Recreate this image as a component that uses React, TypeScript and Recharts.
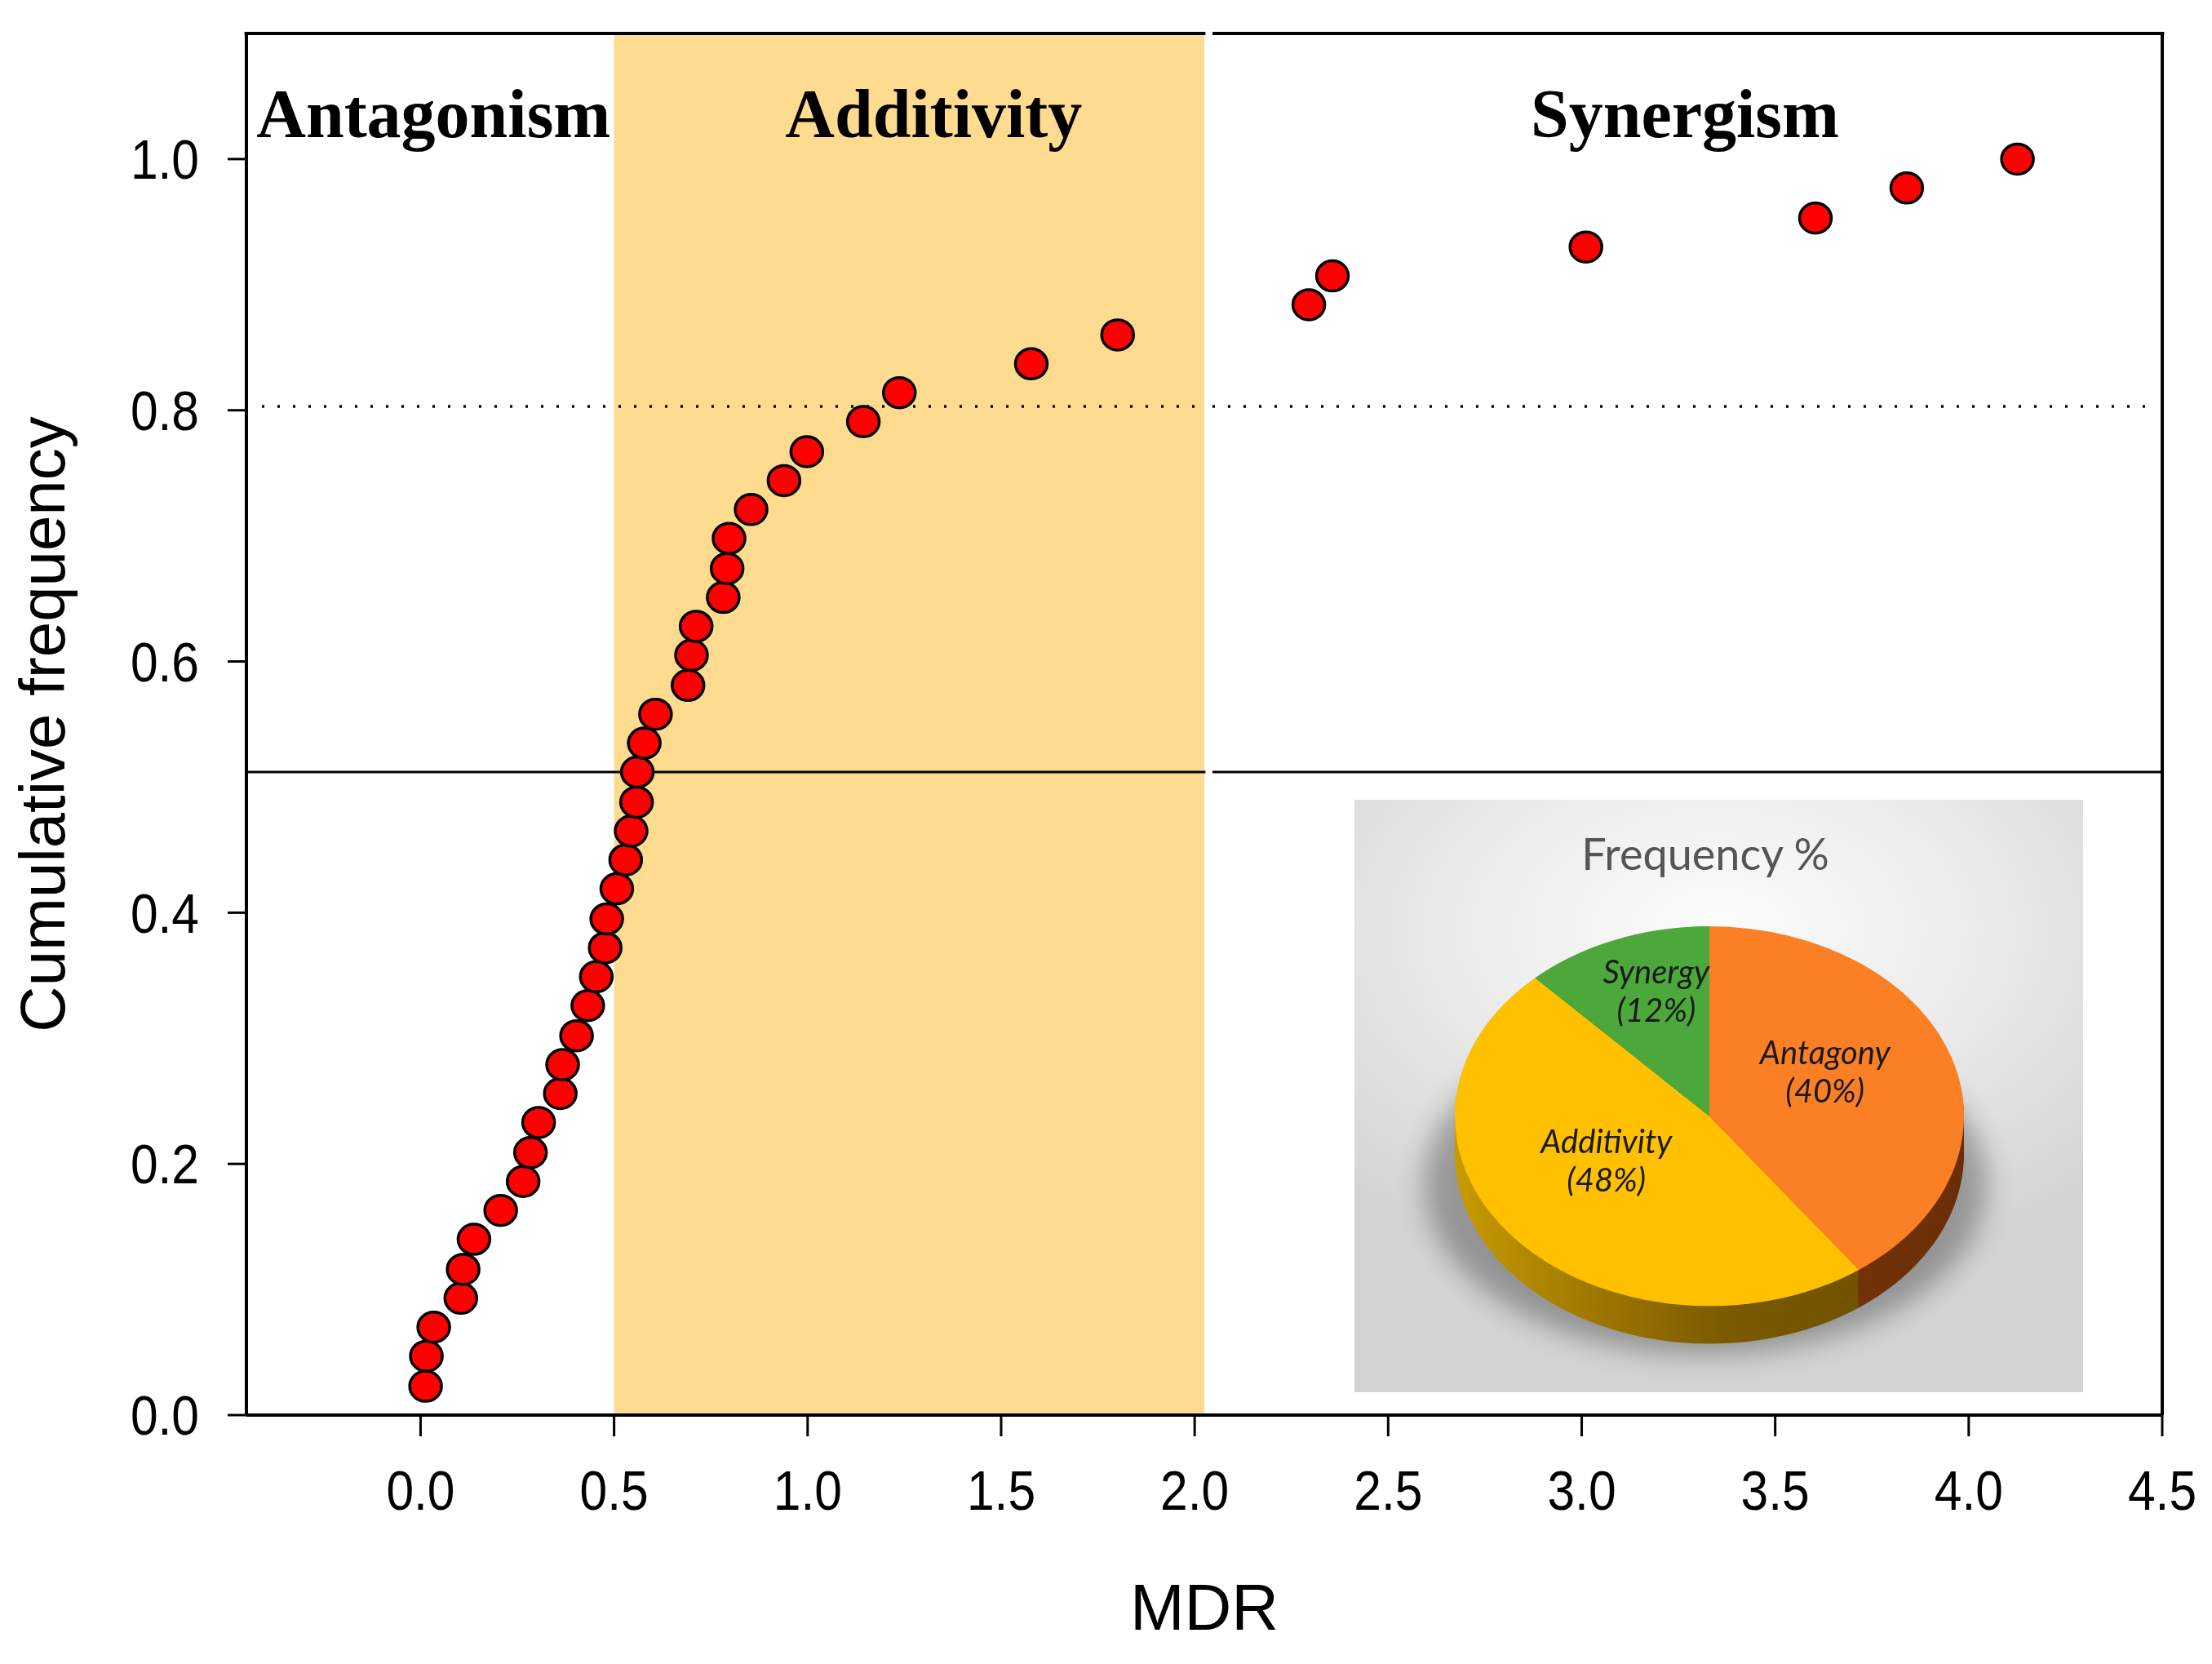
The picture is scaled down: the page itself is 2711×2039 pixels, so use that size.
import {
  ScatterChart,
  Scatter,
  XAxis,
  YAxis,
  ReferenceArea,
  ReferenceLine,
  Label,
  PieChart,
  Pie,
  Cell,
} from "recharts";

// MDR value of each combination, sorted, with its cumulative frequency
const MDR = [
  0.013, 0.015, 0.034, 0.104, 0.11, 0.138, 0.207, 0.265, 0.284, 0.305,
  0.361, 0.367, 0.403, 0.432, 0.454, 0.477, 0.481, 0.507, 0.53, 0.544,
  0.558, 0.56, 0.578, 0.607, 0.691, 0.7, 0.712, 0.782, 0.792, 0.797,
  0.854, 0.939, 0.998, 1.144, 1.237, 1.578, 1.801, 2.295, 2.356, 3.011,
  3.604, 3.84, 4.126,
];
const CUM_FREQ = [
  0.023, 0.047, 0.07, 0.093, 0.116, 0.14, 0.163, 0.186, 0.209, 0.233,
  0.256, 0.279, 0.302, 0.326, 0.349, 0.372, 0.395, 0.419, 0.442, 0.465,
  0.488, 0.512, 0.535, 0.558, 0.581, 0.605, 0.628, 0.651, 0.674, 0.698,
  0.721, 0.744, 0.767, 0.791, 0.814, 0.837, 0.86, 0.884, 0.907, 0.93,
  0.953, 0.977, 1.0,
];

const X_TICKS = [0, 0.5, 1, 1.5, 2, 2.5, 3, 3.5, 4, 4.5];
const Y_TICKS = [0, 0.2, 0.4, 0.6, 0.8, 1.0];
const X_DOMAIN: [number, number] = [-0.45, 4.5];
const Y_DOMAIN: [number, number] = [0, 1.1];

const ZONE_NAMES = ["Antagonism", "Additivity", "Synergism"];
const ZONE_BOUNDS = [-0.45, 0.5, 2.025, 4.5];
const MEDIAN_FREQ = 0.512;
const UPPER_FREQ = 0.803;

const PIE_TITLE = "Frequency %";
const PIE_NAMES = ["Antagony", "Additivity", "Synergy"];
const PIE_PERCENT = [40, 48, 12];

const points = MDR.map((mdr, i) => ({ mdr, freq: CUM_FREQ[i] }));
const pieData = PIE_NAMES.map((name, i) => ({ name, value: PIE_PERCENT[i] }));

const ZONE_FILL = ["none", "#FEDB8F", "none"];
const ZONE_LABEL_DX = [4, 30, 2];
const TOP_COLORS = ["#FB7F25", "#FFC000", "#4CA83A"];
const SIDE_COLORS = ["url(#sideOrange)", "url(#sideYellow)", "#2E6B22"];

// small white break in the lines just right of the shaded band
const GAP: [number, number] = [2.028, 2.046];

// pie geometry (unscaled coordinates, squashed vertically by K)
const K = 0.7456;
const PIE_R = 312;
const PIE_CX = 430;
const PIE_CY = 515;
const DEPTH_STEPS = [62, 57, 52, 47, 42, 37, 32, 27, 22, 17, 12, 7, 3];
const LABEL_PLACE: Record<string, { r: number; shift: number }> = {
  Antagony: { r: 0.51, shift: 9 },
  Additivity: { r: 0.47, shift: -9 },
  Synergy: { r: 0.69, shift: -4 },
};

const AXIS_FONT = "'Liberation Sans', Arial, sans-serif";

function AxisTick(props: any) {
  const { x, y, payload, axis } = props;
  return (
    <g transform={`translate(${x},${y})`}>
      <text
        transform="scale(0.89,1)"
        textAnchor={axis === "x" ? "middle" : "end"}
        dy={axis === "x" ? "0.71em" : "0.355em"}
        fontSize={68}
        fontFamily={AXIS_FONT}
        fill="#000"
      >
        {Number(payload.value).toFixed(1)}
      </text>
    </g>
  );
}

function PieLabel(props: any) {
  const { cx, cy, midAngle, value } = props;
  const name = props.name ?? props.payload?.name;
  const p = LABEL_PLACE[name] ?? { r: 0.55, shift: 0 };
  const a = ((midAngle + p.shift) * Math.PI) / 180;
  const x = cx + PIE_R * p.r * Math.cos(a);
  const y = cy - PIE_R * p.r * Math.sin(a);
  return (
    <text
      transform={`translate(${x},${y}) scale(1,${1 / K})`}
      textAnchor="middle"
      fontFamily="Lato, 'Open Sans', sans-serif"
      fontStyle="italic"
      fontSize={40}
      fill="#1a1a1a"
    >
      <tspan x={0} y={-10}>
        {name}
      </tspan>
      <tspan x={0} y={37}>
        ({value}%)
      </tspan>
    </text>
  );
}

function FrequencyPie() {
  return (
    <div
      style={{
        position: "absolute",
        left: 1660,
        top: 980,
        width: 893,
        height: 726,
        background:
          "radial-gradient(ellipse 75% 60% at 50% 22%, #fdfdfd 0%, #ececec 45%, #d3d3d3 100%)",
      }}
    >
      <div
        style={{
          position: "absolute",
          left: 85,
          top: 260,
          width: 690,
          height: 420,
          borderRadius: "50%",
          background: "rgba(0,0,0,0.3)",
          filter: "blur(16px)",
        }}
      />
      <div
        style={{
          position: "absolute",
          left: 0,
          top: 30,
          width: 860,
          textAlign: "center",
          fontFamily: "Lato, 'Open Sans', sans-serif",
          fontSize: 54,
          lineHeight: "72px",
          color: "#555555",
        }}
      >
        {PIE_TITLE}
      </div>
      <div
        style={{
          position: "absolute",
          left: 0,
          top: 0,
          transform: `scaleY(${K})`,
          transformOrigin: "0 0",
        }}
      >
        <PieChart width={893} height={920}>
          <defs>
            <linearGradient
              id="sideYellow"
              gradientUnits="userSpaceOnUse"
              x1={PIE_CX - PIE_R}
              x2={PIE_CX + PIE_R}
              y1={0}
              y2={0}
            >
              <stop offset="0%" stopColor="#C99C00" />
              <stop offset="30%" stopColor="#9C7500" />
              <stop offset="55%" stopColor="#7A5900" />
              <stop offset="100%" stopColor="#6A4D00" />
            </linearGradient>
            <linearGradient
              id="sideOrange"
              gradientUnits="userSpaceOnUse"
              x1={PIE_CX}
              x2={PIE_CX + PIE_R}
              y1={0}
              y2={0}
            >
              <stop offset="0%" stopColor="#7E3A0C" />
              <stop offset="100%" stopColor="#6A2E06" />
            </linearGradient>
          </defs>
          {DEPTH_STEPS.map((d) => (
            <Pie
              key={d}
              data={pieData}
              dataKey="value"
              nameKey="name"
              cx={PIE_CX}
              cy={PIE_CY + d}
              outerRadius={PIE_R}
              startAngle={90}
              endAngle={-270}
              stroke="none"
              label={false}
              labelLine={false}
              isAnimationActive={false}
            >
              {pieData.map((e, i) => (
                <Cell key={e.name} fill={SIDE_COLORS[i]} />
              ))}
            </Pie>
          ))}
          <Pie
            data={pieData}
            dataKey="value"
            nameKey="name"
            cx={PIE_CX}
            cy={PIE_CY}
            outerRadius={PIE_R}
            startAngle={90}
            endAngle={-270}
            stroke="none"
            label={PieLabel}
            labelLine={false}
            isAnimationActive={false}
          >
            {pieData.map((e, i) => (
              <Cell key={e.name} fill={TOP_COLORS[i]} />
            ))}
          </Pie>
        </PieChart>
      </div>
    </div>
  );
}

function Marker(props: any) {
  const { cx, cy } = props;
  if (cx == null || cy == null) return null;
  return (
    <ellipse cx={cx} cy={cy} rx={19.5} ry={18.5} fill="#FF0000" stroke="#000" strokeWidth={3.5} />
  );
}

// horizontal line split in two around GAP
function splitLine(y: number, from: number, to: number, key: string, extra: any) {
  return [
    <ReferenceLine
      key={`${key}-a`}
      segment={[
        { x: from, y },
        { x: GAP[0], y },
      ]}
      stroke="#000"
      ifOverflow="visible"
      {...extra}
    />,
    <ReferenceLine
      key={`${key}-b`}
      segment={[
        { x: GAP[1], y },
        { x: to, y },
      ]}
      stroke="#000"
      ifOverflow="visible"
      {...extra}
    />,
  ];
}

export default function App() {
  return (
    <div
      style={{
        position: "absolute",
        left: 0,
        top: 0,
        width: 2711,
        height: 2039,
        background: "#fff",
        fontFamily: AXIS_FONT,
      }}
    >
      <ScatterChart
        width={2711}
        height={2039}
        margin={{ top: 41, right: 60, bottom: 304, left: 301 }}
      >
        {ZONE_NAMES.map((name, i) => (
          <ReferenceArea
            key={name}
            x1={ZONE_BOUNDS[i]}
            x2={ZONE_BOUNDS[i + 1]}
            y1={Y_DOMAIN[0]}
            y2={Y_DOMAIN[1]}
            fill={ZONE_FILL[i]}
            fillOpacity={1}
            stroke="none"
            ifOverflow="hidden"
          >
            <Label
              content={(p: any) => {
                const vb = p.viewBox || {};
                return (
                  <text
                    x={vb.x + vb.width / 2 + ZONE_LABEL_DX[i]}
                    y={vb.y + 127}
                    textAnchor="middle"
                    fontFamily="'Liberation Serif', 'Times New Roman', serif"
                    fontWeight="bold"
                    fontSize={84}
                    fill="#000"
                  >
                    {name}
                  </text>
                );
              }}
            />
          </ReferenceArea>
        ))}
        {splitLine(MEDIAN_FREQ, X_DOMAIN[0], X_DOMAIN[1], "median", { strokeWidth: 3 })}
        {splitLine(UPPER_FREQ, -0.41, 4.47, "upper", {
          strokeWidth: 3.5,
          strokeDasharray: "3 16",
        })}
        {splitLine(Y_DOMAIN[1], X_DOMAIN[0] - 0.005, X_DOMAIN[1] + 0.005, "top", {
          strokeWidth: 4,
        })}
        <XAxis
          type="number"
          dataKey="mdr"
          domain={X_DOMAIN}
          ticks={X_TICKS}
          allowDataOverflow
          height={1}
          axisLine={{ stroke: "#000", strokeWidth: 4 }}
          tickLine={{ stroke: "#000", strokeWidth: 3 }}
          tickSize={26}
          tickMargin={42}
          tick={(p: any) => <AxisTick {...p} axis="x" />}
          interval={0}
        >
          <Label
            content={(p: any) => {
              const vb = p.viewBox || {};
              return (
                <text
                  x={vb.x + vb.width / 2}
                  y={vb.y + 263}
                  textAnchor="middle"
                  fontSize={80}
                  fontFamily={AXIS_FONT}
                  fill="#000"
                >
                  MDR
                </text>
              );
            }}
          />
        </XAxis>
        <YAxis
          type="number"
          dataKey="freq"
          domain={Y_DOMAIN}
          ticks={Y_TICKS}
          allowDataOverflow
          width={1}
          axisLine={{ stroke: "#000", strokeWidth: 4 }}
          tickLine={{ stroke: "#000", strokeWidth: 3 }}
          tickSize={23}
          tickMargin={35}
          tick={(p: any) => <AxisTick {...p} axis="y" />}
          interval={0}
        >
          <Label
            content={(p: any) => {
              const vb = p.viewBox || {};
              const cx = vb.x + vb.width - 250;
              const cy = vb.y + vb.height / 2;
              return (
                <text
                  x={cx}
                  y={cy}
                  transform={`rotate(-90, ${cx}, ${cy})`}
                  textAnchor="middle"
                  dominantBaseline="central"
                  fontSize={78}
                  fontFamily={AXIS_FONT}
                  fill="#000"
                >
                  Cumulative frequency
                </text>
              );
            }}
          />
        </YAxis>
        <YAxis
          yAxisId="right"
          orientation="right"
          type="number"
          domain={Y_DOMAIN}
          allowDataOverflow
          width={1}
          tick={false}
          tickLine={false}
          axisLine={{ stroke: "#000", strokeWidth: 4 }}
        />
        <Scatter
          data={points}
          dataKey="freq"
          shape={<Marker />}
          isAnimationActive={false}
        />
      </ScatterChart>
      <FrequencyPie />
    </div>
  );
}
